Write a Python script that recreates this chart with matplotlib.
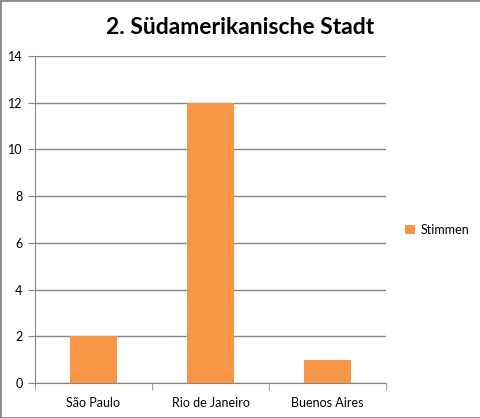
import matplotlib.pyplot as plt
from matplotlib.patches import Rectangle

cities = ['São Paulo', 'Rio de Janeiro', 'Buenos Aires']
stimmen = [2, 12, 1]
yticks = [0, 2, 4, 6, 8, 10, 12, 14]

plt.rcParams['font.family'] = ['Lato', 'DejaVu Sans']

W, H = 481, 418
fig = plt.figure(figsize=(W / 100, H / 100), dpi=100)
ax = fig.add_axes([35 / W, (H - 383) / H, (386 - 35) / W, (383 - 56) / H])

grey = '#868686'
x = range(len(cities))
ax.bar(x, stimmen, width=0.4, color='#F79646', label='Stimmen', zorder=3)

ax.set_xlim(-0.5, 2.5)
ax.set_ylim(0, 14)
ax.set_yticks(yticks)
ax.set_yticklabels([str(v) for v in yticks], fontsize=9)
ax.yaxis.grid(True, color=grey, linewidth=1, zorder=0)

# category labels centred, tick marks at category borders
ax.set_xticks(list(x))
ax.set_xticklabels(cities, fontsize=9)
ax.tick_params(axis='x', length=0, pad=10)
ax.set_xticks([-0.5, 0.5, 1.5, 2.5], minor=True)
ax.tick_params(axis='x', which='minor', length=5, color=grey)
ax.tick_params(axis='y', length=5, color=grey, pad=4)

for side in ['top', 'right']:
    ax.spines[side].set_visible(False)
ax.spines['left'].set_color(grey)
ax.spines['bottom'].set_color(grey)

fig.text(240 / W, 1 - 27 / H, '2. Südamerikanische Stadt', ha='center', va='center',
         fontsize=16.5, fontweight='bold')

fig.legend(loc='center left', bbox_to_anchor=(394 / W, 1 - 230 / H), frameon=False,
           fontsize=9, handlelength=0.8, handleheight=0.8, handletextpad=0.4)

fig.patches.append(Rectangle((0, 0), 1, 1, transform=fig.transFigure, fill=False,
                             edgecolor='#888888', linewidth=2))

fig.savefig('out.png', dpi=100)
